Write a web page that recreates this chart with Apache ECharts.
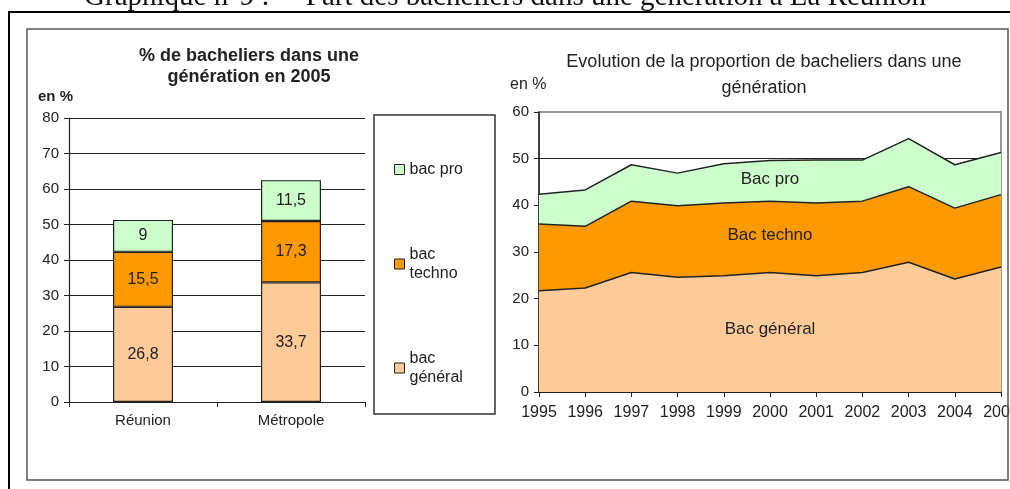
<!DOCTYPE html>
<html>
<head>
<meta charset="utf-8">
<title>Part des bacheliers dans une génération à La Réunion</title>
<script src="https://cdn.jsdelivr.net/npm/echarts@6/dist/echarts.min.js"></script>
<style>
  html, body { margin: 0; padding: 0; background: #fff; }
  #chart { width: 1010px; height: 489px; }
</style>
</head>
<body>
<div id="chart"></div>
<script>
// données : graphique de gauche (2005)
const zones = ['Réunion', 'Métropole'];
const barGeneral = [26.8, 33.7];
const barTechno = [15.5, 17.3];
const barPro = [9, 11.5];

// données : évolution 1995-2005
const years = ['1995', '1996', '1997', '1998', '1999', '2000', '2001', '2002', '2003', '2004', '2005'];
const areaGeneral = [21.7, 22.3, 25.6, 24.6, 24.9, 25.6, 24.9, 25.6, 27.8, 24.2, 26.8];
const areaTechno = [14.3, 13.2, 15.3, 15.3, 15.6, 15.3, 15.6, 15.3, 16.2, 15.2, 15.5];
const areaPro = [6.4, 7.8, 7.8, 7.0, 8.4, 8.7, 9.2, 8.8, 10.3, 9.3, 9.0];

const legendNames = ['bac pro', 'bac techno', 'bac général'];

const FONT = "'Liberation Sans', Arial, sans-serif";
const colPro = '#ccffcc';
const colTechno = '#ff9900';
const colGeneral = '#ffcc99';

const chart = echarts.init(document.getElementById('chart'));

// libellé avec virgule décimale
const frNum = v => String(v).replace('.', ',');

const barItem = color => ({ color: color, borderColor: '#222', borderWidth: 1.2 });
const barLabel = {
    show: true,
    position: 'inside',
    fontSize: 16,
    color: '#222',
    fontFamily: FONT,
    formatter: p => frNum(p.value)
};

const areaSeries = (name, data, color) => ({
    name: name,
    type: 'line',
    stack: 'evol',
    xAxisIndex: 1,
    yAxisIndex: 1,
    data: data,
    symbol: 'none',
    lineStyle: { color: '#222', width: 1.5 },
    areaStyle: { color: color, opacity: 1 },
    emphasis: { disabled: true }
});

const option = {
    animation: false,
    textStyle: { fontFamily: FONT, color: '#222' },
    title: [
        {
            text: '% de bacheliers dans une\ngénération en 2005',
            left: 249,
            top: 46,
            textAlign: 'center',
            padding: 0,
            textStyle: { fontSize: 18, fontWeight: 'bold', lineHeight: 21, color: '#222', fontFamily: FONT }
        },
        {
            text: 'Evolution de la proportion de bacheliers dans une\ngénération',
            left: 764,
            top: 49,
            textAlign: 'center',
            padding: 0,
            textStyle: { fontSize: 18, fontWeight: 'normal', lineHeight: 26, color: '#222', fontFamily: FONT }
        }
    ],
    legend: {
        orient: 'vertical',
        left: 389,
        top: 155,
        data: legendNames,
        icon: 'rect',
        itemWidth: 10,
        itemHeight: 10,
        itemGap: 66,
        itemStyle: { borderColor: '#222', borderWidth: 1 },
        textStyle: { fontSize: 16, lineHeight: 19, color: '#222', fontFamily: FONT },
        formatter: name => name === 'bac pro' ? name : name.replace(' ', '\n'),
        selectedMode: false
    },
    grid: [
        { left: 69, top: 118, width: 296, height: 284, outerBoundsMode: 'none' },
        { left: 539, top: 112, width: 462, height: 280, outerBoundsMode: 'none', show: true, borderColor: '#999', borderWidth: 2, backgroundColor: 'transparent' }
    ],
    xAxis: [
        {
            type: 'category',
            gridIndex: 0,
            data: zones,
            axisLine: { lineStyle: { color: '#222', width: 1.2 } },
            axisTick: { show: true, length: 5, lineStyle: { color: '#222' } },
            axisLabel: { fontSize: 15, color: '#222', margin: 11 }
        },
        {
            type: 'category',
            gridIndex: 1,
            data: years,
            boundaryGap: false,
            axisLine: { lineStyle: { color: '#222', width: 1.5 } },
            axisTick: { show: true, length: 5, lineStyle: { color: '#222' } },
            axisLabel: { fontSize: 16, color: '#222', margin: 13, interval: 0 }
        }
    ],
    yAxis: [
        {
            type: 'value',
            gridIndex: 0,
            min: 0,
            max: 80,
            interval: 10,
            name: 'en %',
            nameLocation: 'end',
            nameGap: 21,
            nameTextStyle: { fontSize: 15, fontWeight: 'bold', color: '#222', align: 'left', verticalAlign: 'middle', padding: [0, 0, 0, -31] },
            axisLine: { show: true, lineStyle: { color: '#222', width: 1.2 } },
            axisTick: { show: true, length: 5, lineStyle: { color: '#222' } },
            axisLabel: { fontSize: 15, color: '#222', margin: 10 },
            splitLine: { lineStyle: { color: '#222', width: 1 } }
        },
        {
            type: 'value',
            gridIndex: 1,
            min: 0,
            max: 60,
            interval: 10,
            name: 'en %',
            nameLocation: 'end',
            nameGap: 27,
            nameTextStyle: { fontSize: 16, color: '#222', align: 'left', verticalAlign: 'middle', padding: [0, 0, 0, -29] },
            axisLine: { show: true, lineStyle: { color: '#222', width: 1.5 } },
            axisTick: { show: true, length: 5, lineStyle: { color: '#222' } },
            axisLabel: { fontSize: 15, color: '#222', margin: 10 },
            // seule la ligne des 50 reste visible au-dessus des aires
            splitLine: { lineStyle: { color: ['#222', '#222', '#222', '#222', '#222', '#222', '#999'], width: 1 } }
        }
    ],
    series: [
        { name: 'bac général', type: 'bar', stack: 'bac', data: barGeneral, barWidth: 60, itemStyle: barItem(colGeneral), label: barLabel, emphasis: { disabled: true } },
        { name: 'bac techno', type: 'bar', stack: 'bac', data: barTechno, barWidth: 60, itemStyle: barItem(colTechno), label: barLabel, emphasis: { disabled: true } },
        { name: 'bac pro', type: 'bar', stack: 'bac', data: barPro, barWidth: 60, itemStyle: barItem(colPro), label: barLabel, emphasis: { disabled: true } },
        areaSeries('Bac général', areaGeneral, colGeneral),
        areaSeries('Bac techno', areaTechno, colTechno),
        areaSeries('Bac pro', areaPro, colPro)
    ],
    graphic: [
        // titre du document, coupé en haut
        {
            type: 'text', x: 505, y: 12, z: 10,
            style: { text: 'Graphique n°9 :     Part des bacheliers dans une génération à La Réunion', font: "29px 'Liberation Serif', 'Times New Roman', serif", fill: '#111', align: 'center', verticalAlign: 'bottom' }
        },
        // cadres
        { type: 'rect', shape: { x: 9, y: 12, width: 1020, height: 500 }, style: { fill: 'none', stroke: '#000', lineWidth: 2 }, z: 10 },
        { type: 'rect', shape: { x: 27, y: 29, width: 981, height: 451 }, style: { fill: 'none', stroke: '#555', lineWidth: 1.5 }, z: 10 },
        // cadre de la légende
        { type: 'rect', shape: { x: 374, y: 115, width: 121, height: 299 }, style: { fill: 'none', stroke: '#333', lineWidth: 1.5 }, z: 10 },
        // libellés dans les aires
        { type: 'text', x: 770, y: 179, z: 10, style: { text: 'Bac pro', font: '17px ' + FONT, fill: '#222', align: 'center', verticalAlign: 'middle' } },
        { type: 'text', x: 770, y: 235, z: 10, style: { text: 'Bac techno', font: '17px ' + FONT, fill: '#222', align: 'center', verticalAlign: 'middle' } },
        { type: 'text', x: 770, y: 329, z: 10, style: { text: 'Bac général', font: '17px ' + FONT, fill: '#222', align: 'center', verticalAlign: 'middle' } }
    ]
};

chart.setOption(option);
</script>
</body>
</html>
